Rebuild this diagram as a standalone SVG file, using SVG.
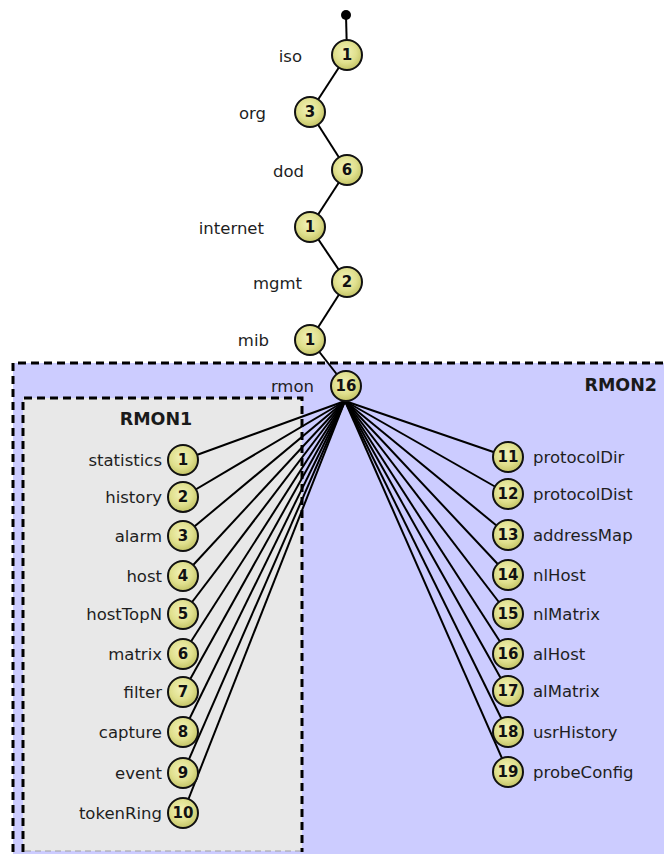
<svg xmlns="http://www.w3.org/2000/svg" width="664" height="854" viewBox="0 0 664 854">
  <defs>
    <radialGradient id="ball" cx="0.45" cy="0.4" r="0.6">
      <stop offset="0" stop-color="#f2f2b8"/>
      <stop offset="0.6" stop-color="#e0e08e"/>
      <stop offset="1" stop-color="#c4c466"/>
    </radialGradient>
    <style>
      .lbl { font-family: "DejaVu Sans", "Liberation Sans", sans-serif; font-size: 16.5px; fill: #1e1e1e; }
      .lbl.r { text-anchor: end; }
      .num { font-family: "DejaVu Sans", "Liberation Sans", sans-serif; font-size: 15px; font-weight: bold; fill: #111; text-anchor: middle; dominant-baseline: central; }
      .ttl { font-family: "DejaVu Sans", "Liberation Sans", sans-serif; font-size: 17.5px; font-weight: bold; fill: #1a1a1a; }
      .node circle { fill: url(#ball); stroke: #111; stroke-width: 2; }
      .edges line { stroke: #000; stroke-width: 2; }
      .group { stroke: #000; stroke-width: 3; stroke-dasharray: 8 5; }
    </style>
  </defs>

  <!-- group areas -->
  <g id="rmon2-area">
    <rect x="13" y="363" width="680" height="520" fill="#ccccff"/>
    <path class="group" d="M13 852 V363 H664" fill="none"/>
    <text class="ttl" x="657" y="391" text-anchor="end">RMON2</text>
  </g>
  <g id="rmon1-area">
    <rect x="23" y="398" width="279" height="453" fill="#e8e8e8"/>
    <path class="group" d="M23 852 V398 H302 V852" fill="none"/>
    <line x1="25" y1="851" x2="300" y2="851" stroke="#a0a0a0" stroke-width="1" stroke-dasharray="6 4"/>
    <text class="ttl" x="156" y="425" text-anchor="middle">RMON1</text>
  </g>

  <!-- connectors -->
  <g id="connectors" class="edges">
    <line x1="346" y1="15" x2="347" y2="55"/>
    <line x1="347" y1="55" x2="310" y2="112"/>
    <line x1="310" y1="112" x2="347" y2="170"/>
    <line x1="347" y1="170" x2="310" y2="227"/>
    <line x1="310" y1="227" x2="347" y2="282"/>
    <line x1="347" y1="282" x2="310" y2="340"/>
    <line x1="310" y1="340" x2="346" y2="386"/>
    <!-- rmon to RMON1 groups -->
    <line x1="345" y1="401" x2="183" y2="460"/>
    <line x1="345" y1="401" x2="183" y2="497"/>
    <line x1="345" y1="401" x2="183" y2="536"/>
    <line x1="345" y1="401" x2="183" y2="576"/>
    <line x1="345" y1="401" x2="183" y2="614"/>
    <line x1="345" y1="401" x2="183" y2="654"/>
    <line x1="345" y1="401" x2="183" y2="692"/>
    <line x1="345" y1="401" x2="183" y2="732"/>
    <line x1="345" y1="401" x2="183" y2="773"/>
    <line x1="345" y1="401" x2="183" y2="813"/>
    <!-- rmon to RMON2 groups -->
    <line x1="345" y1="401" x2="508" y2="457"/>
    <line x1="345" y1="401" x2="508" y2="494"/>
    <line x1="345" y1="401" x2="508" y2="535"/>
    <line x1="345" y1="401" x2="508" y2="575"/>
    <line x1="345" y1="401" x2="508" y2="614"/>
    <line x1="345" y1="401" x2="508" y2="654"/>
    <line x1="345" y1="401" x2="508" y2="691"/>
    <line x1="345" y1="401" x2="508" y2="732"/>
    <line x1="345" y1="401" x2="508" y2="772"/>
  </g>

  <!-- root point -->
  <g id="root"><circle cx="346" cy="15" r="5" fill="#000"/></g>

  <!-- path from iso down to rmon -->
  <g id="iso" class="node"><circle cx="347" cy="55" r="15"/><text class="num" x="347" y="55">1</text><text class="lbl r" x="302" y="62">iso</text></g>
  <g id="org" class="node"><circle cx="310" cy="112" r="15"/><text class="num" x="310" y="112">3</text><text class="lbl r" x="266" y="119">org</text></g>
  <g id="dod" class="node"><circle cx="347" cy="170" r="15"/><text class="num" x="347" y="170">6</text><text class="lbl r" x="304" y="177">dod</text></g>
  <g id="internet" class="node"><circle cx="310" cy="227" r="15"/><text class="num" x="310" y="227">1</text><text class="lbl r" x="264" y="234">internet</text></g>
  <g id="mgmt" class="node"><circle cx="347" cy="282" r="15"/><text class="num" x="347" y="282">2</text><text class="lbl r" x="302" y="289">mgmt</text></g>
  <g id="mib" class="node"><circle cx="310" cy="340" r="15"/><text class="num" x="310" y="340">1</text><text class="lbl r" x="269" y="346">mib</text></g>
  <g id="rmon" class="node"><circle cx="346" cy="386" r="15"/><text class="num" x="346" y="386">16</text><text class="lbl r" x="314" y="392">rmon</text></g>

  <!-- RMON1 groups -->
  <g id="statistics" class="node"><circle cx="183" cy="460" r="15"/><text class="num" x="183" y="460">1</text><text class="lbl r" x="162" y="466">statistics</text></g>
  <g id="history" class="node"><circle cx="183" cy="497" r="15"/><text class="num" x="183" y="497">2</text><text class="lbl r" x="162" y="503">history</text></g>
  <g id="alarm" class="node"><circle cx="183" cy="536" r="15"/><text class="num" x="183" y="536">3</text><text class="lbl r" x="162" y="542">alarm</text></g>
  <g id="host" class="node"><circle cx="183" cy="576" r="15"/><text class="num" x="183" y="576">4</text><text class="lbl r" x="162" y="582">host</text></g>
  <g id="hostTopN" class="node"><circle cx="183" cy="614" r="15"/><text class="num" x="183" y="614">5</text><text class="lbl r" x="162" y="620">hostTopN</text></g>
  <g id="matrix" class="node"><circle cx="183" cy="654" r="15"/><text class="num" x="183" y="654">6</text><text class="lbl r" x="162" y="660">matrix</text></g>
  <g id="filter" class="node"><circle cx="183" cy="692" r="15"/><text class="num" x="183" y="692">7</text><text class="lbl r" x="162" y="698">filter</text></g>
  <g id="capture" class="node"><circle cx="183" cy="732" r="15"/><text class="num" x="183" y="732">8</text><text class="lbl r" x="162" y="738">capture</text></g>
  <g id="event" class="node"><circle cx="183" cy="773" r="15"/><text class="num" x="183" y="773">9</text><text class="lbl r" x="162" y="779">event</text></g>
  <g id="tokenRing" class="node"><circle cx="183" cy="813" r="15"/><text class="num" x="183" y="813">10</text><text class="lbl r" x="162" y="819">tokenRing</text></g>

  <!-- RMON2 groups -->
  <g id="protocolDir" class="node"><circle cx="508" cy="457" r="15"/><text class="num" x="508" y="457">11</text><text class="lbl" x="533" y="463">protocolDir</text></g>
  <g id="protocolDist" class="node"><circle cx="508" cy="494" r="15"/><text class="num" x="508" y="494">12</text><text class="lbl" x="533" y="500">protocolDist</text></g>
  <g id="addressMap" class="node"><circle cx="508" cy="535" r="15"/><text class="num" x="508" y="535">13</text><text class="lbl" x="533" y="541">addressMap</text></g>
  <g id="nlHost" class="node"><circle cx="508" cy="575" r="15"/><text class="num" x="508" y="575">14</text><text class="lbl" x="533" y="581">nlHost</text></g>
  <g id="nlMatrix" class="node"><circle cx="508" cy="614" r="15"/><text class="num" x="508" y="614">15</text><text class="lbl" x="533" y="620">nlMatrix</text></g>
  <g id="alHost" class="node"><circle cx="508" cy="654" r="15"/><text class="num" x="508" y="654">16</text><text class="lbl" x="533" y="660">alHost</text></g>
  <g id="alMatrix" class="node"><circle cx="508" cy="691" r="15"/><text class="num" x="508" y="691">17</text><text class="lbl" x="533" y="697">alMatrix</text></g>
  <g id="usrHistory" class="node"><circle cx="508" cy="732" r="15"/><text class="num" x="508" y="732">18</text><text class="lbl" x="533" y="738">usrHistory</text></g>
  <g id="probeConfig" class="node"><circle cx="508" cy="772" r="15"/><text class="num" x="508" y="772">19</text><text class="lbl" x="533" y="778">probeConfig</text></g>
</svg>
